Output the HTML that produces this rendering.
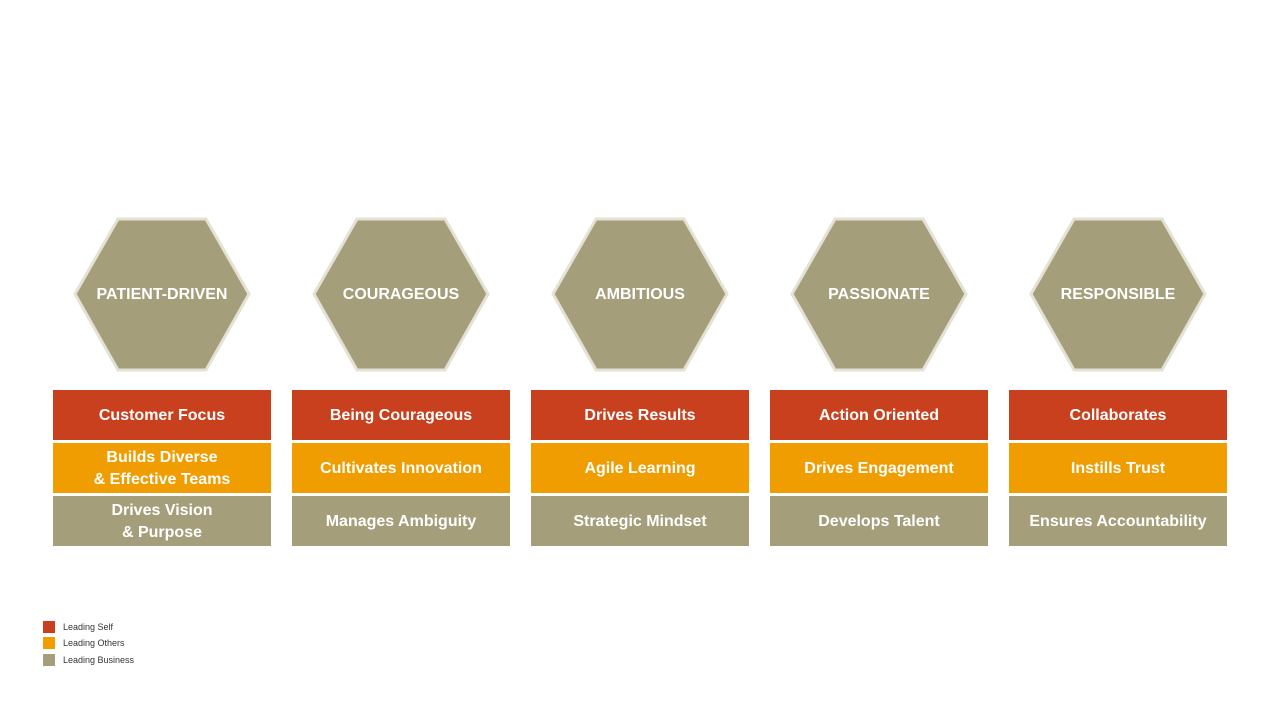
<!DOCTYPE html>
<html><head><meta charset="utf-8"><style>
body{margin:0;width:1280px;height:720px;background:#fff;position:relative;font-family:"Liberation Sans",sans-serif;overflow:hidden}
.b{position:absolute;width:218px;height:50px;color:#fff;font-weight:bold;font-size:16px;display:flex;align-items:center;justify-content:center;text-align:center;line-height:22px;padding-top:2px;box-sizing:border-box}
.r{background:#c8401e}.o{background:#ef9d00}.g{background:#a59e7b}
.lg{position:absolute;left:43px;width:12px;height:12px}
.lt{position:absolute;left:63px;font-size:9px;color:#333;line-height:12px}
</style></head><body>
<svg width="1280" height="720" style="position:absolute;left:0;top:0">
<g fill="#a59e7b" stroke="#e4e1d5" stroke-width="3">
<polygon points="75,294 118,219 206,219 249,294 206,370 118,370"/>
<polygon points="314,294 357,219 445,219 488,294 445,370 357,370"/>
<polygon points="553,294 596,219 684,219 727,294 684,370 596,370"/>
<polygon points="792,294 835,219 923,219 966,294 923,370 835,370"/>
<polygon points="1031,294 1074,219 1162,219 1205,294 1162,370 1074,370"/>
</g>
<g fill="#fff" font-family="Liberation Sans" font-weight="bold" font-size="16" text-anchor="middle">
<text x="162" y="299">PATIENT-DRIVEN</text>
<text x="401" y="299">COURAGEOUS</text>
<text x="640" y="299">AMBITIOUS</text>
<text x="879" y="299">PASSIONATE</text>
<text x="1118" y="299">RESPONSIBLE</text>
</g></svg>
<div class="b r" style="left:53px;top:390px">Customer Focus</div>
<div class="b o" style="left:53px;top:443px">Builds Diverse<br>&amp; Effective Teams</div>
<div class="b g" style="left:53px;top:496px">Drives Vision<br>&amp; Purpose</div>
<div class="b r" style="left:292px;top:390px">Being Courageous</div>
<div class="b o" style="left:292px;top:443px">Cultivates Innovation</div>
<div class="b g" style="left:292px;top:496px">Manages Ambiguity</div>
<div class="b r" style="left:531px;top:390px">Drives Results</div>
<div class="b o" style="left:531px;top:443px">Agile Learning</div>
<div class="b g" style="left:531px;top:496px">Strategic Mindset</div>
<div class="b r" style="left:770px;top:390px">Action Oriented</div>
<div class="b o" style="left:770px;top:443px">Drives Engagement</div>
<div class="b g" style="left:770px;top:496px">Develops Talent</div>
<div class="b r" style="left:1009px;top:390px">Collaborates</div>
<div class="b o" style="left:1009px;top:443px">Instills Trust</div>
<div class="b g" style="left:1009px;top:496px">Ensures Accountability</div>
<div class="lg r" style="top:621px"></div><div class="lt" style="top:621px">Leading Self</div>
<div class="lg o" style="top:637px"></div><div class="lt" style="top:637px">Leading Others</div>
<div class="lg g" style="top:654px"></div><div class="lt" style="top:654px">Leading Business</div>
</body></html>
